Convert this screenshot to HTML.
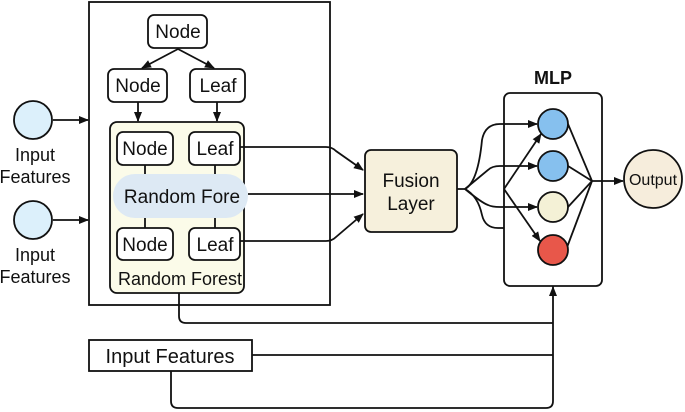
<!DOCTYPE html>
<html><head><meta charset="utf-8"><style>
html,body{margin:0;padding:0;background:#fff;}
svg{display:block;font-family:"Liberation Sans",sans-serif;}
</style></head><body>
<svg width="685" height="412" viewBox="0 0 685 412" xmlns="http://www.w3.org/2000/svg">
<defs>
<marker id="a" markerWidth="10" markerHeight="10" refX="9" refY="5" orient="auto" markerUnits="userSpaceOnUse">
<path d="M0,1 L10,5 L0,9 z" fill="#111"/></marker>
</defs>
<g fill="none" stroke="#111" stroke-width="1.8">
<rect x="89" y="2" width="241" height="303" fill="#fff"/>
<line x1="53" y1="120" x2="88" y2="120" marker-end="url(#a)"/>
<line x1="53" y1="220" x2="88" y2="220" marker-end="url(#a)"/>
<line x1="178" y1="49" x2="142" y2="68" marker-end="url(#a)"/>
<line x1="178" y1="49" x2="214" y2="68" marker-end="url(#a)"/>
<line x1="138" y1="102" x2="138" y2="121" marker-end="url(#a)"/>
<line x1="217" y1="102" x2="217" y2="121" marker-end="url(#a)"/>
</g>
<circle cx="33" cy="120" r="19" fill="#dcf0fb" stroke="#111" stroke-width="1.8"/>
<circle cx="33" cy="220" r="19" fill="#dcf0fb" stroke="#111" stroke-width="1.8"/>
<g font-size="18" text-anchor="middle" fill="#111">
<text x="35" y="161">Input</text><text x="35" y="183">Features</text>
<text x="35" y="261">Input</text><text x="35" y="283">Features</text>
</g>
<g stroke="#111" stroke-width="1.8">
<rect x="148" y="15" width="59" height="33" rx="6" fill="#fff"/>
<rect x="108" y="69" width="59" height="33" rx="6" fill="#fff"/>
<rect x="190" y="69" width="55" height="33" rx="6" fill="#fff"/>
<rect x="110" y="122" width="134" height="171" rx="7" fill="#fbfbe9"/>
<line x1="145" y1="165" x2="145" y2="228"/>
<line x1="215" y1="165" x2="215" y2="228"/>
<rect x="117" y="132" width="56" height="33" rx="6" fill="#fff"/>
<rect x="189" y="132" width="51" height="33" rx="6" fill="#fff"/>
<rect x="117" y="228" width="56" height="32" rx="6" fill="#fff"/>
<rect x="189" y="228" width="51" height="32" rx="6" fill="#fff"/>
</g>
<rect x="113" y="174" width="135" height="44" rx="22" fill="#dde9f4"/>
<g font-size="19" text-anchor="middle" fill="#111">
<text x="178" y="38">Node</text>
<text x="138" y="92">Node</text>
<text x="218" y="92">Leaf</text>
<text x="145" y="155">Node</text>
<text x="215" y="155">Leaf</text>
<text x="182" y="203">Random Fore</text>
<text x="145" y="251">Node</text>
<text x="215" y="251">Leaf</text>
<text x="180" y="285" font-size="18">Random Forest</text>
</g>
<g fill="none" stroke="#111" stroke-width="1.8">
<path d="M240,147 H326 Q332,147 336,151 L363,170" marker-end="url(#a)"/>
<line x1="248" y1="194" x2="363" y2="194" marker-end="url(#a)"/>
<path d="M240,241 H326 Q332,241 336,237 L363,214" marker-end="url(#a)"/>
<path d="M179,293 V316 Q179,323 186,323 H553"/>
<line x1="252" y1="355" x2="553" y2="355"/>
<path d="M171,371 V401 Q171,408 178,408 H546 Q553,408 553,401 V287" marker-end="url(#a)"/>
<line x1="553" y1="287" x2="553" y2="266" marker-end="url(#a)"/>
</g>
<rect x="89" y="340" width="163" height="31" fill="#fff" stroke="#111" stroke-width="1.8"/>
<text x="170" y="363" font-size="20" text-anchor="middle" fill="#111">Input Features</text>
<rect x="365" y="150" width="92" height="82" rx="6" fill="#f6f0dc" stroke="#111" stroke-width="1.8"/>
<g font-size="19" text-anchor="middle" fill="#111"><text x="411" y="187">Fusion</text><text x="411" y="210">Layer</text></g>
<text x="553" y="84" font-size="18" font-weight="bold" text-anchor="middle" fill="#111">MLP</text>
<rect x="504" y="93" width="98" height="193" rx="6" fill="#fff" stroke="#111" stroke-width="1.8"/>
<g fill="none" stroke="#111" stroke-width="1.8">
<path d="M457,189 H465 Q478,182 482,140 Q485,124 500,124 H537" marker-end="url(#a)"/>
<path d="M465,189 Q482,175 488,170 Q492,166 500,166 H537" marker-end="url(#a)"/>
<path d="M465,189 Q482,203 488,205 Q492,207 500,207 H537" marker-end="url(#a)"/>
<path d="M465,189 Q478,196 482,215 Q485,228 498,228 H504"/>
<line x1="504" y1="189" x2="541" y2="134" marker-end="url(#a)"/>
<line x1="504" y1="189" x2="540" y2="241" marker-end="url(#a)"/>
<line x1="568" y1="124" x2="592" y2="181"/>
<line x1="568" y1="166" x2="592" y2="181"/>
<line x1="568" y1="207" x2="592" y2="181"/>
<line x1="566" y1="250" x2="592" y2="181"/>
<line x1="592" y1="181" x2="623" y2="181" marker-end="url(#a)"/>
</g>
<g stroke="#111" stroke-width="1.8">
<circle cx="553" cy="124" r="15" fill="#86c0ee"/>
<circle cx="553" cy="166" r="15" fill="#86c0ee"/>
<circle cx="553" cy="207" r="15" fill="#f4f1d6"/>
<circle cx="553" cy="250" r="15" fill="#e8574a"/>
<circle cx="653" cy="179" r="29" fill="#f6eddc"/>
</g>
<text x="653" y="185" font-size="16" text-anchor="middle" fill="#111">Output</text>
</svg>
</body></html>
